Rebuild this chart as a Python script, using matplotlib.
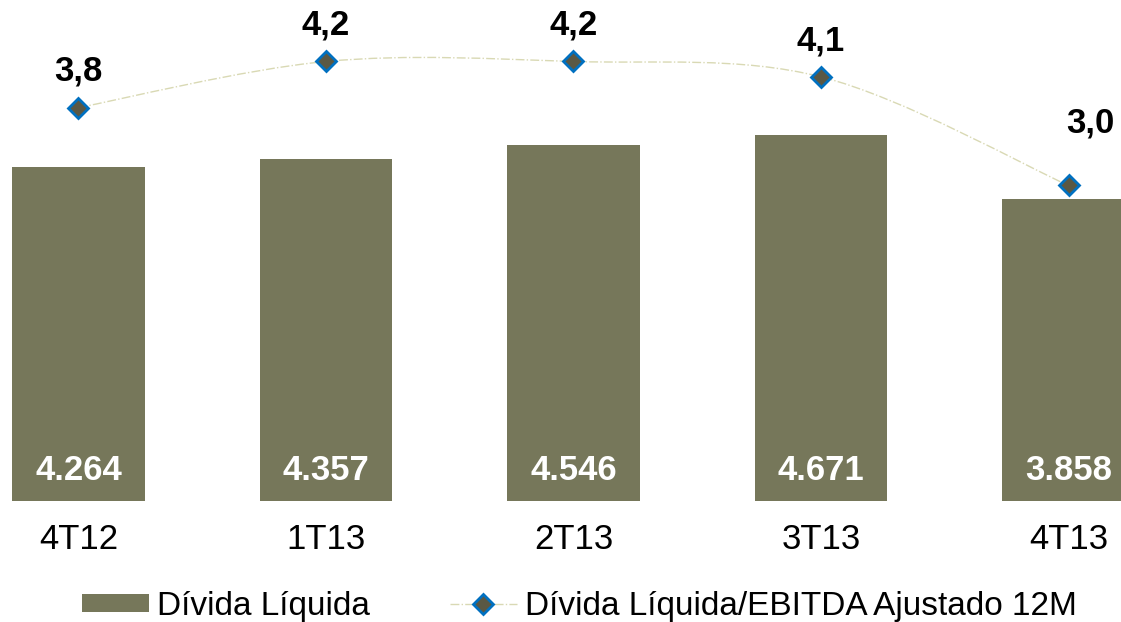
import matplotlib
matplotlib.use("Agg")
import matplotlib.pyplot as plt
from matplotlib.path import Path
from matplotlib.patches import PathPatch
from matplotlib.lines import Line2D
from matplotlib.patches import Patch
import numpy as np

plt.rcParams['font.family'] = ['Liberation Sans', 'DejaVu Sans']

categories = ['4T12', '1T13', '2T13', '3T13', '4T13']
divida_liquida = [4264, 4357, 4546, 4671, 3858]
divida_labels = ['4.264', '4.357', '4.546', '4.671', '3.858']
ratio = [3.77, 4.22, 4.22, 4.07, 3.01]
ratio_labels = ['3,8', '4,2', '4,2', '4,1', '3,0']

BAR_COLOR = '#76775A'
MARK_FACE = '#5A5844'
MARK_EDGE = '#0070C0'
LINE_COLOR = '#D9D9B4'

fig = plt.figure(figsize=(11.21, 6.22), dpi=100)
ax = fig.add_axes([0, 121/622, 1, 501/622])
x = np.arange(len(categories))
ax.bar(x, divida_liquida, width=0.537, color=BAR_COLOR, zorder=2)
ax.set_xlim(-0.317, 4.212)
ax.set_ylim(0, 6390)
for s in ax.spines.values():
    s.set_visible(False)
ax.set_yticks([])
ax.set_xticks(x)
ax.set_xticklabels(categories, fontsize=25)
ax.tick_params(axis='x', length=0, pad=16)

for xi, v, lab in zip(x, divida_liquida, divida_labels):
    ax.annotate(lab, (xi, 0), xytext=(0, 22), textcoords='offset points',
                ha='center', va='center', color='white', fontsize=25,
                fontweight='bold', zorder=5)

ax2 = ax.twinx()
ax2.set_ylim(-0.07, 4.82)
ax2.set_yticks([])
for s in ax2.spines.values():
    s.set_visible(False)

# smooth curve (Catmull-Rom to Bezier) through the data points
pts = np.column_stack([x, ratio]).astype(float)
verts = [tuple(pts[0])]
codes = [Path.MOVETO]
n = len(pts)
for i in range(n - 1):
    p0 = pts[i - 1] if i > 0 else pts[i]
    p1 = pts[i]
    p2 = pts[i + 1]
    p3 = pts[i + 2] if i + 2 < n else pts[i + 1]
    c1 = p1 + (p2 - p0) / 6.0
    c2 = p2 - (p3 - p1) / 6.0
    verts += [tuple(c1), tuple(c2), tuple(p2)]
    codes += [Path.CURVE4] * 3
path = Path(verts, codes)
ax2.add_patch(PathPatch(path, facecolor='none', edgecolor=LINE_COLOR,
                        lw=1.0, linestyle='-.', zorder=3))
ax2.plot(x, ratio, linestyle='none', marker='D', markersize=10,
         markerfacecolor=MARK_FACE, markeredgecolor=MARK_EDGE,
         markeredgewidth=2, zorder=4)

for i, (xi, v, lab) in enumerate(zip(x, ratio, ratio_labels)):
    off = (0, 26) if i < n - 1 else (16, 45)
    ax2.annotate(lab, (xi, v), xytext=off, textcoords='offset points',
                 ha='center', va='center', fontsize=25, fontweight='bold',
                 color='black')

handles = [Patch(facecolor=BAR_COLOR, edgecolor='none'),
           Line2D([], [], color=LINE_COLOR, lw=1.0, linestyle='-.', marker='D',
                  markersize=10, markerfacecolor=MARK_FACE,
                  markeredgecolor=MARK_EDGE, markeredgewidth=2)]
fig.legend(handles, ['Dívida Líquida', 'Dívida Líquida/EBITDA Ajustado 12M'],
           loc='center', bbox_to_anchor=(0.517, 16/622), ncol=2, frameon=False,
           fontsize=24, handlelength=2.0, handleheight=0.45, handletextpad=0.25,
           columnspacing=2.4, borderaxespad=0)

fig.savefig('out.png', dpi=100)
